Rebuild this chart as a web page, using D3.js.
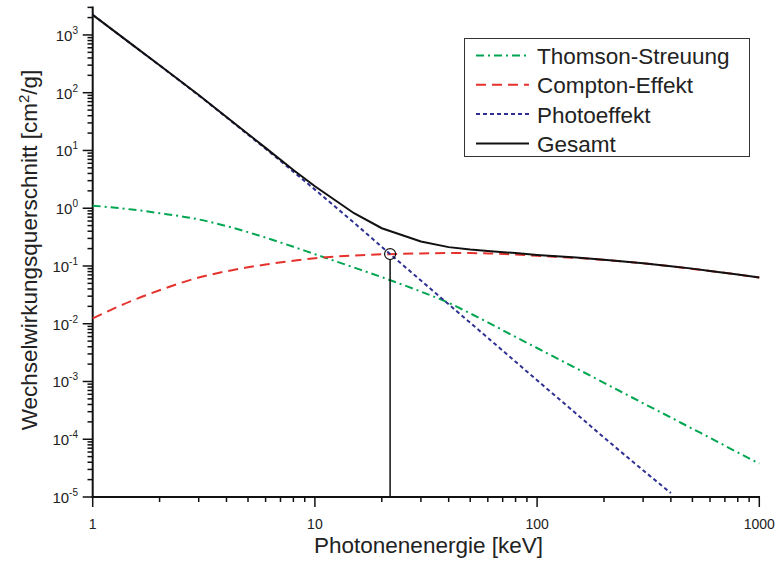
<!DOCTYPE html>
<html>
<head>
<meta charset="utf-8">
<script src="https://cdn.jsdelivr.net/npm/d3@7"></script>
<style>
  body { margin: 0; background: #fff; }
  svg { font-family: "Liberation Sans", Arial, sans-serif; }
</style>
</head>
<body>
<div id="chart"></div>
<script>
    // energies in keV
    var energies = [1, 1.5, 2, 3, 4, 5, 6, 8, 10, 15, 20, 30, 40, 50, 60, 80, 100, 150, 200, 300, 400, 500, 600, 800, 1000]
    var thomson = [1.107, 0.95, 0.82, 0.64, 0.49, 0.385, 0.31, 0.215, 0.16, 0.094, 0.064, 0.036, 0.023, 0.0151, 0.0106, 0.0059, 0.0038, 0.00169, 0.00095, 0.00042, 0.000238, 0.000152, 0.000106, 0.000059, 0.000038]
    var compton = [0.0124, 0.025, 0.038, 0.063, 0.081, 0.095, 0.106, 0.123, 0.136, 0.152, 0.159, 0.165, 0.167, 0.167, 0.165, 0.158, 0.150, 0.138, 0.127, 0.111, 0.099, 0.089, 0.082, 0.071, 0.063]
    var gesamt = [2230, 686, 298, 91, 38, 19.3, 11.1, 4.6, 2.4, 0.82, 0.45, 0.265, 0.212, 0.193, 0.182, 0.167, 0.155, 0.140, 0.128, 0.112, 0.099, 0.09, 0.082, 0.071, 0.063]
    // photo effect stops above the axis
    var photoE = [1, 1.5, 2, 3, 4, 5, 6, 8, 10, 15, 20, 30, 40, 50, 60, 80, 100, 150, 200, 300, 400]
    var photo = [2230, 684, 297, 90, 37.5, 18.8, 10.7, 4.3, 2.1, 0.56, 0.214, 0.056, 0.0217, 0.0104, 0.0057, 0.0022, 0.00105, 0.000277, 0.000107, 0.000029, 0.0000117]

    var markerE = 21.8
    var markerVal = 0.161

    var xTicks = [1, 10, 100, 1000]
    var yTicks = [-5, -4, -3, -2, -1, 0, 1, 2, 3]

    var green = "#00a651"
    var red = "#e5322d"
    var blue = "#2e3192"

    var w = 776
    var h = 563

    var svg = d3.select("#chart").append("svg")
        .attr("width", w)
        .attr("height", h)

    var x = d3.scaleLog().domain([1, 1000]).range([92.7, 759.3])
    var y = d3.scaleLog().domain([1e-5, 3000]).range([497, 7.4])

    // minor ticks
    var xMinor = []
    var yMinor = []
    for (var d = 1; d < 1000; d *= 10) {
        for (var k = 2; k < 10; k++) xMinor.push(d * k)
    }
    for (var p = -5; p < 4; p++) {
        for (var k = 2; k < 10; k++) {
            var v = k * Math.pow(10, p)
            if (v <= 3000) yMinor.push(v)
        }
    }

    var g = svg.append("g")

    g.selectAll(".xminor").data(xMinor).join("line")
        .attr("x1", function(d){return x(d)}).attr("x2", function(d){return x(d)})
        .attr("y1", 497).attr("y2", 502)
        .attr("stroke", "#111").attr("stroke-width", 1.5)
    g.selectAll(".xmajor").data(xTicks).join("line")
        .attr("x1", function(d){return x(d)}).attr("x2", function(d){return x(d)})
        .attr("y1", 497).attr("y2", 507)
        .attr("stroke", "#111").attr("stroke-width", 1.5)
    g.selectAll(".xlab").data(xTicks).join("text")
        .attr("x", function(d){return x(d)})
        .attr("y", 529)
        .attr("text-anchor", "middle")
        .attr("font-size", 14)
        .attr("fill", "#222")
        .text(function(d){return d})

    g.selectAll(".yminor").data(yMinor).join("line")
        .attr("y1", function(d){return y(d)}).attr("y2", function(d){return y(d)})
        .attr("x1", 92.7).attr("x2", 87.5)
        .attr("stroke", "#111").attr("stroke-width", 1.5)
    g.selectAll(".ymajor").data(yTicks).join("line")
        .attr("y1", function(d){return y(Math.pow(10, d))}).attr("y2", function(d){return y(Math.pow(10, d))})
        .attr("x1", 92.7).attr("x2", 82.7)
        .attr("stroke", "#111").attr("stroke-width", 1.5)

    var ylab = g.selectAll(".ylab").data(yTicks).join("text")
        .attr("x", 78)
        .attr("y", function(d){return y(Math.pow(10, d)) + 6})
        .attr("text-anchor", "end")
        .attr("font-size", 15)
        .attr("fill", "#222")
    ylab.append("tspan").text("10")
    ylab.append("tspan").attr("dy", -7).attr("font-size", 10).text(function(d){return d})

    // axis lines
    g.append("line").attr("x1", 92.7).attr("x2", 92.7).attr("y1", 6.5).attr("y2", 497.8)
        .attr("stroke", "#111").attr("stroke-width", 2)
    g.append("line").attr("x1", 91.7).attr("x2", 760).attr("y1", 497).attr("y2", 497)
        .attr("stroke", "#111").attr("stroke-width", 2)

    // axis titles
    svg.append("text")
        .attr("x", 428.5).attr("y", 553)
        .attr("text-anchor", "middle")
        .attr("font-size", 22.5)
        .attr("fill", "#222")
        .text("Photonenenergie [keV]")

    var yt = svg.append("text")
        .attr("transform", "translate(37,250) rotate(-90)")
        .attr("text-anchor", "middle")
        .attr("font-size", 22.5)
        .attr("fill", "#222")
    yt.append("tspan").text("Wechselwirkungsquerschnitt [cm")
    yt.append("tspan").attr("dy", -8).attr("font-size", 15).text("2")
    yt.append("tspan").attr("dy", 8).text("/g]")

    var line = d3.line()
        .x(function(d){return x(d[0])})
        .y(function(d){return y(d[1])})
        .curve(d3.curveMonotoneX)

    var straight = d3.line()
        .x(function(d){return x(d[0])})
        .y(function(d){return y(d[1])})

    svg.append("path")
        .datum(d3.zip(energies, thomson))
        .attr("d", line)
        .attr("fill", "none").attr("stroke", green).attr("stroke-width", 2)
        .attr("stroke-dasharray", "8,4,2,4")

    svg.append("path")
        .datum(d3.zip(energies, compton))
        .attr("d", line)
        .attr("fill", "none").attr("stroke", red).attr("stroke-width", 2)
        .attr("stroke-dasharray", "10,6")

    svg.append("path")
        .datum(d3.zip(photoE, photo))
        .attr("d", line)
        .attr("fill", "none").attr("stroke", blue).attr("stroke-width", 2)
        .attr("stroke-dasharray", "4,3")

    svg.append("path")
        .datum(d3.zip(energies, gesamt))
        .attr("d", straight)
        .attr("fill", "none").attr("stroke", "#111").attr("stroke-width", 2)

    // marker at the crossing + drop line
    svg.append("line")
        .attr("x1", x(markerE)).attr("x2", x(markerE))
        .attr("y1", y(markerVal) + 5.5).attr("y2", 497)
        .attr("stroke", "#111").attr("stroke-width", 1.5)
    svg.append("circle")
        .attr("cx", x(markerE)).attr("cy", y(markerVal))
        .attr("r", 5.5)
        .attr("fill", "none").attr("stroke", "#111").attr("stroke-width", 1.2)

    // legend
    var legNames = ["Thomson-Streuung", "Compton-Effekt", "Photoeffekt", "Gesamt"]
    var legColors = [green, red, blue, "#111"]
    var legDash = ["8,4,2,4", "10,6", "4,3", null]

    var leg = svg.append("g")
    leg.append("rect")
        .attr("x", 464.5).attr("y", 38.5)
        .attr("width", 285).attr("height", 118)
        .attr("fill", "#fff").attr("stroke", "#333").attr("stroke-width", 1)

    leg.selectAll(".legline").data(legNames).join("line")
        .attr("x1", 476).attr("x2", 529)
        .attr("y1", function(d,i){return 55.5 + i*29.3})
        .attr("y2", function(d,i){return 55.5 + i*29.3})
        .attr("stroke", function(d,i){return legColors[i]})
        .attr("stroke-width", 2)
        .attr("stroke-dasharray", function(d,i){return legDash[i]})

    leg.selectAll(".legtext").data(legNames).join("text")
        .attr("x", 537)
        .attr("y", function(d,i){return 64 + i*29.3})
        .attr("font-size", 22.5)
        .attr("fill", "#222")
        .text(function(d){return d})
</script>
</body>
</html>
